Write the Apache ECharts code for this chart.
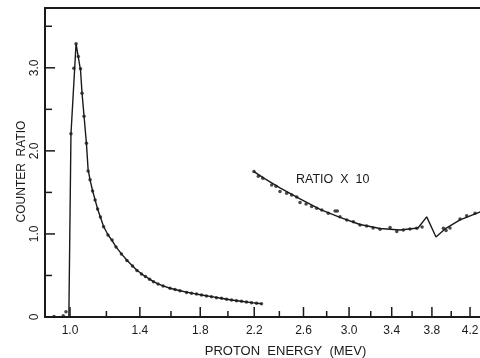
<!DOCTYPE html>
<html>
<head>
<meta charset="utf-8">
<script src="https://cdn.jsdelivr.net/npm/echarts@6/dist/echarts.min.js"></script>
<style>
  html, body { margin: 0; padding: 0; background: #fff; }
  #chart { width: 480px; height: 358px; }
</style>
</head>
<body>
<div id="chart"></div>
<script>
// energy axis is drawn on a square-root scale: values go through Math.sqrt before plotting
const energyTicks = [1.0, 1.4, 1.8, 2.2, 2.6, 3.0, 3.4, 3.8, 4.2];
const energyMinorTicks = [1.2, 1.6, 2.0, 2.4, 2.8, 3.2, 3.6, 4.0];
const ratioTicks = [0, 1, 2, 3];
const ratioMinorTicks = [0.5, 1.5, 2.5, 3.5];

// counter ratio, solid curve
const curve1E = [0.918, 0.994, 1.005, 1.032, 1.044, 1.056, 1.064, 1.075, 1.088, 1.097, 1.108, 1.122, 1.136, 1.150, 1.166, 1.184, 1.209, 1.233, 1.256, 1.288, 1.321, 1.355, 1.382, 1.410, 1.435, 1.461, 1.486, 1.515, 1.548, 1.594, 1.660, 1.740, 1.810, 1.880, 1.950, 2.027, 2.100, 2.180, 2.257];
const curve1R = [0, 0, 2.20, 3.29, 3.13, 2.97, 2.70, 2.42, 2.09, 1.78, 1.65, 1.52, 1.41, 1.30, 1.20, 1.09, 0.99, 0.92, 0.845, 0.76, 0.683, 0.615, 0.563, 0.52, 0.488, 0.456, 0.427, 0.399, 0.374, 0.346, 0.316, 0.287, 0.265, 0.245, 0.226, 0.205, 0.189, 0.173, 0.160];

// counter ratio, measured points
const dots1E = [0.918, 0.965, 0.979, 1.005, 1.020, 1.032, 1.044, 1.056, 1.064, 1.075, 1.088, 1.097, 1.108, 1.122, 1.136, 1.150, 1.166, 1.184, 1.209, 1.233, 1.256, 1.288, 1.321, 1.355, 1.382, 1.410, 1.435, 1.461, 1.486, 1.515, 1.548, 1.594, 1.627, 1.660, 1.705, 1.739, 1.774, 1.809, 1.844, 1.880, 1.916, 1.953, 1.990, 2.027, 2.064, 2.102, 2.140, 2.179, 2.218, 2.257];
const dots1R = [0.005, 0.016, 0.064, 2.205, 2.996, 3.289, 3.136, 2.988, 2.695, 2.418, 2.093, 1.759, 1.651, 1.518, 1.410, 1.301, 1.205, 1.088, 0.988, 0.928, 0.843, 0.759, 0.681, 0.614, 0.560, 0.518, 0.488, 0.454, 0.425, 0.398, 0.373, 0.346, 0.331, 0.317, 0.295, 0.286, 0.277, 0.265, 0.253, 0.245, 0.233, 0.225, 0.213, 0.205, 0.196, 0.189, 0.181, 0.172, 0.165, 0.160];

// ratio x 10, solid curve
const curve2E = [2.198, 2.285, 2.405, 2.571, 2.742, 2.918, 3.100, 3.288, 3.481, 3.659, 3.747, 3.842, 3.935, 4.093, 4.320];
const curve2R = [1.751, 1.663, 1.554, 1.422, 1.295, 1.199, 1.114, 1.066, 1.048, 1.072, 1.205, 0.964, 1.060, 1.169, 1.268];

// ratio x 10, measured points
const dots2E = [2.198, 2.232, 2.267, 2.338, 2.373, 2.405, 2.460, 2.501, 2.543, 2.571, 2.622, 2.670, 2.713, 2.757, 2.814, 2.874, 2.894, 2.918, 2.979, 3.039, 3.100, 3.162, 3.222, 3.288, 3.384, 3.449, 3.513, 3.579, 3.646, 3.700, 3.918, 3.946, 3.987, 4.093, 4.164, 4.254];
const dots2R = [1.751, 1.693, 1.671, 1.590, 1.575, 1.510, 1.490, 1.470, 1.446, 1.377, 1.361, 1.329, 1.310, 1.289, 1.249, 1.277, 1.277, 1.208, 1.169, 1.148, 1.108, 1.096, 1.072, 1.057, 1.076, 1.028, 1.048, 1.060, 1.069, 1.084, 1.069, 1.042, 1.072, 1.181, 1.220, 1.249];

const ink = "#1a1a1a";
const font = "'Liberation Sans', Arial, sans-serif";
const toPts = (xs, ys) => xs.map((e, i) => [Math.sqrt(e), ys[i]]);
const sq = (v) => Math.sqrt(v);

const xMin = 0.9344, xMax = 2.0755;

// inward tick marks, placed through the axis scales
function xTicks(values, len) {
  return {
    type: "custom", silent: true, clip: false, z: 5,
    data: values.map((e) => [sq(e), 0]),
    renderItem: (params, api) => {
      const p = api.coord([api.value(0), 0]);
      return {
        type: "line",
        shape: { x1: p[0], y1: p[1], x2: p[0], y2: p[1] - len },
        style: { stroke: ink, lineWidth: 1.5 }
      };
    }
  };
}
function yTicks(values, len) {
  return {
    type: "custom", silent: true, clip: false, z: 5,
    data: values.map((v) => [xMin, v]),
    renderItem: (params, api) => {
      const p = api.coord([xMin, api.value(1)]);
      return {
        type: "line",
        shape: { x1: p[0], y1: p[1], x2: p[0] + len, y2: p[1] },
        style: { stroke: ink, lineWidth: 1.5 }
      };
    }
  };
}

const chart = echarts.init(document.getElementById("chart"), null, { renderer: "canvas" });

chart.setOption({
  backgroundColor: "#fff",
  animation: false,
  grid: { left: 45, right: 0, top: 8, bottom: 41, outerBoundsMode: "none" },
  xAxis: [
    {
      type: "value", min: xMin, max: xMax, position: "bottom",
      name: "PROTON  ENERGY  (MEV)", nameLocation: "middle", nameGap: 28, nameMoveOverlap: false,
      nameTextStyle: { color: ink, fontFamily: font, fontSize: 13, padding: [0, 0, 0, 46] },
      axisLine: { show: true, lineStyle: { color: ink, width: 2 } },
      axisTick: { show: false },
      axisLabel: {
        color: ink, fontFamily: font, fontSize: 12, margin: 8,
        customValues: energyTicks.map(sq),
        formatter: (v) => (v * v).toFixed(1)
      },
      splitLine: { show: false }
    },
    {
      type: "value", min: xMin, max: xMax, position: "top",
      axisLine: { show: true, lineStyle: { color: ink, width: 2 } },
      axisTick: { show: false }, axisLabel: { show: false }, splitLine: { show: false }
    }
  ],
  yAxis: {
    type: "value", min: 0, max: 3.72, position: "left",
    name: "COUNTER  RATIO", nameLocation: "middle", nameGap: 17, nameMoveOverlap: false,
    nameTextStyle: { color: ink, fontFamily: font, fontSize: 12, padding: [0, 18, 0, 0] },
    axisLine: { show: true, lineStyle: { color: ink, width: 2 } },
    axisTick: { show: false },
    axisLabel: {
      color: ink, fontFamily: font, fontSize: 12, rotate: 90, margin: 4,
      customValues: ratioTicks,
      formatter: (v) => (v === 0 ? "0" : v.toFixed(1))
    },
    splitLine: { show: false }
  },
  graphic: [
    {
      type: "text", left: 296, top: 173,
      style: { text: "RATIO  X  10", fill: ink, font: "12.5px " + font }
    }
  ],
  series: [
    xTicks(energyTicks, 10),
    xTicks(energyMinorTicks, 6),
    yTicks(ratioTicks, 10),
    yTicks(ratioMinorTicks, 7),
    {
      type: "line", data: toPts(curve1E, curve1R), showSymbol: false,
      lineStyle: { color: ink, width: 1.4 }, z: 2
    },
    {
      type: "scatter", data: toPts(dots1E, dots1R), symbolSize: 3.5,
      itemStyle: { color: ink }, z: 3
    },
    {
      type: "line", data: toPts(curve2E, curve2R), showSymbol: false,
      lineStyle: { color: ink, width: 1.4 }, z: 2
    },
    {
      type: "scatter", data: toPts(dots2E, dots2R), symbolSize: 3.5,
      itemStyle: { color: ink }, z: 3
    }
  ]
});
</script>
</body>
</html>
